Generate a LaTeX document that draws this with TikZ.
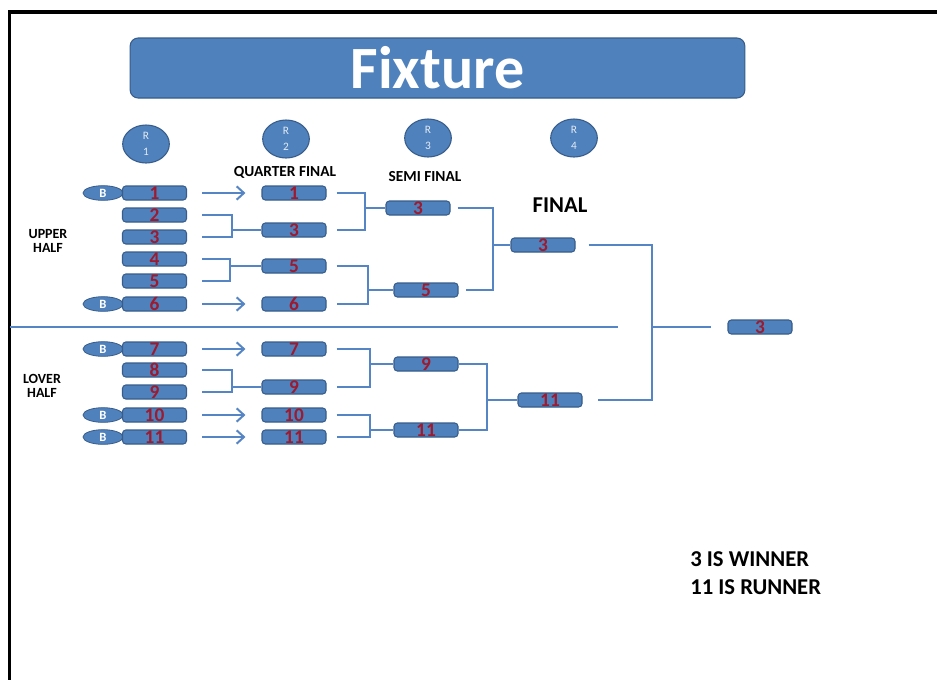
\documentclass[tikz,border=0pt]{standalone}
\usepackage{fontspec}
\setmainfont{Carlito}
\usetikzlibrary{arrows.meta,calc,shapes.geometric}
\definecolor{boxblue}{HTML}{4F81BD}
\definecolor{boxedge}{HTML}{385D8A}
\definecolor{numred}{HTML}{9E1A2E}
\definecolor{lineblue}{HTML}{5585C5}
\begin{document}
\begin{tikzpicture}[x=0.75pt,y=-0.75pt,
  team/.style={rectangle,rounded corners=2.5pt,fill=boxblue,draw=boxedge,line width=0.8pt,
    minimum width=48pt,minimum height=10.5pt,inner sep=0pt,
    font=\fontsize{14.5}{14.5}\selectfont\bfseries,text=numred},
  byebadge/.style={ellipse,fill=boxblue,draw=boxedge,line width=0.6pt,minimum width=30pt,
    minimum height=11pt,inner sep=0pt,text=white,font=\fontsize{9.5}{9.5}\selectfont\bfseries},
  roundlbl/.style={ellipse,fill=boxblue,draw=boxedge,line width=0.8pt,minimum width=35pt,
    minimum height=28.5pt,inner sep=0pt,align=center,text=white!85!boxblue,
    font=\fontsize{8.5}{12.5}\selectfont},
  link/.style={draw=lineblue,line width=1.6pt},
  arr/.style={link,-{Straight Barb[length=5.5pt,width=10pt,line width=1.5pt]}},
  small/.style={font=\fontsize{11.5}{11.5}\selectfont\bfseries,inner sep=0pt},
  side/.style={font=\fontsize{10.5}{10}\selectfont\bfseries,align=center,inner sep=0pt},
  big/.style={font=\fontsize{17}{21}\selectfont\bfseries,inner sep=0pt}
]
\useasboundingbox (0,0) rectangle (937,679);
\fill[white] (0,0) rectangle (937,679);
% frame
\draw[line width=2.4pt,line cap=rect] (9.5,690) -- (9.5,12) -- (945,12);

% title
\node[rectangle,rounded corners=6pt,fill=boxblue,draw=boxedge,line width=0.8pt,
  minimum width=461pt,minimum height=45pt,inner sep=0pt,text=white,
  font=\fontsize{45}{45}\selectfont\bfseries] (title) at (437.5,68) {Fixture};

% round labels
\node[roundlbl] (c1) at (146,144) {R\\1};
\node[roundlbl] (c2) at (286,139) {R\\2};
\node[roundlbl] (c3) at (428,138) {R\\3};
\node[roundlbl] (c4) at (574,138) {R\\4};

\node[small] (qfl) at (285,172) {QUARTER FINAL};
\node[small] (sfl) at (425,177) {SEMI FINAL};
\node[font=\fontsize{17}{17}\selectfont\bfseries,inner sep=0pt] (fl) at (560,205) {FINAL};
\node[side] (uh) at (48,241) {UPPER\\HALF};
\node[side] (lh) at (42,386) {LOVER\\HALF};

% bye badges
\node[byebadge] (b1) at (103,193) {B};
\node[byebadge] (b6) at (103,304) {B};
\node[byebadge] (b7) at (103,349) {B};
\node[byebadge] (b10) at (103,415) {B};
\node[byebadge] (b11) at (103,437) {B};

% round 1
\node[team] (r1) at (154.5,193) {1};
\node[team] (r2) at (154.5,215) {2};
\node[team] (r3) at (154.5,237) {3};
\node[team] (r4) at (154.5,259) {4};
\node[team] (r5) at (154.5,281) {5};
\node[team] (r6) at (154.5,304) {6};
\node[team] (r7) at (154.5,349) {7};
\node[team] (r8) at (154.5,370) {8};
\node[team] (r9) at (154.5,392) {9};
\node[team] (r10) at (154.5,415) {10};
\node[team] (r11) at (154.5,437) {11};

% quarter final
\node[team] (q1) at (294,193) {1};
\node[team] (q3) at (294,230) {3};
\node[team] (q5) at (294,266) {5};
\node[team] (q6) at (294,304) {6};
\node[team] (q7) at (294,349) {7};
\node[team] (q9) at (294,387) {9};
\node[team] (q10) at (294,415) {10};
\node[team] (q11) at (294,437) {11};

% semi final
\node[team] (s3) at (418,208) {3};
\node[team] (s5) at (426,290) {5};
\node[team] (s9) at (426,364) {9};
\node[team] (s11) at (426,430) {11};

% final
\node[team] (f3) at (543,245) {3};
\node[team] (f11) at (550,400) {11};

% winner
\node[team] (w3) at (760,327) {3};

% vertical positions of brackets
\coordinate (v23) at (232,0);
\coordinate (v45) at (230,0);
\coordinate (v89) at (232,0);
\coordinate (u13) at (365,0);
\coordinate (u56) at (368,0);
\coordinate (u79) at (370,0);
\coordinate (u1011) at (370,0);
\coordinate (t35) at (493,0);
\coordinate (t911) at (487,0);
\coordinate (wv) at (652,0);

% divider
\coordinate (dl) at (10,327);
\coordinate (dr) at (618,327);
\draw[link,line width=1.5pt] (dl) -- (dr);

% byes
\foreach \a/\b in {r1/q1,r6/q6,r7/q7,r10/q10,r11/q11}
  \draw[arr] ($(\a.east)+(15,0)$) -- ($(\b.west)+(-16,0)$);

% round 1 brackets
\draw[link] ($(r2.east)+(15,0)$) -- (v23 |- r2) -- (v23 |- r3) -- ($(r3.east)+(15,0)$);
\draw[link] (v23 |- q3) -- (q3.west);
\draw[link] ($(r4.east)+(15,0)$) -- (v45 |- r4) -- (v45 |- r5) -- ($(r5.east)+(15,0)$);
\draw[link] (v45 |- q5) -- (q5.west);
\draw[link] ($(r8.east)+(15,0)$) -- (v89 |- r8) -- (v89 |- r9) -- ($(r9.east)+(15,0)$);
\draw[link] (v89 |- q9) -- (q9.west);

% quarter final brackets
\draw[link] ($(q1.east)+(10,0)$) -- (u13 |- q1) -- (u13 |- q3) -- ($(q3.east)+(10,0)$);
\draw[link] (u13 |- s3) -- (s3.west);
\draw[link] ($(q5.east)+(10,0)$) -- (u56 |- q5) -- (u56 |- q6) -- ($(q6.east)+(10,0)$);
\draw[link] (u56 |- s5) -- (s5.west);
\draw[link] ($(q7.east)+(10,0)$) -- (u79 |- q7) -- (u79 |- q9) -- ($(q9.east)+(10,0)$);
\draw[link] (u79 |- s9) -- (s9.west);
\draw[link] ($(q10.east)+(10,0)$) -- (u1011 |- q10) -- (u1011 |- q11) -- ($(q11.east)+(10,0)$);
\draw[link] (u1011 |- s11) -- (s11.west);

% semi final brackets
\draw[link] ($(s3.east)+(7,0)$) -- (t35 |- s3) -- (t35 |- s5) -- ($(s5.east)+(7,0)$);
\draw[link] (t35 |- f3) -- (f3.west);
\draw[link] (s9.east) -- (t911 |- s9) -- (t911 |- s11) -- (s11.east);
\draw[link] (t911 |- f11) -- (f11.west);

% final bracket
\draw[link] ($(f3.east)+(13,0)$) -- (wv |- f3) -- (wv |- f11) -- ($(f11.east)+(15,0)$);
\draw[link] (wv |- w3) -- ($(w3.west)+(-16,0)$);

% result
\node[big,anchor=west,align=left] (res) at (690,573) {3 IS WINNER\\11 IS RUNNER};
\end{tikzpicture}
\end{document}
